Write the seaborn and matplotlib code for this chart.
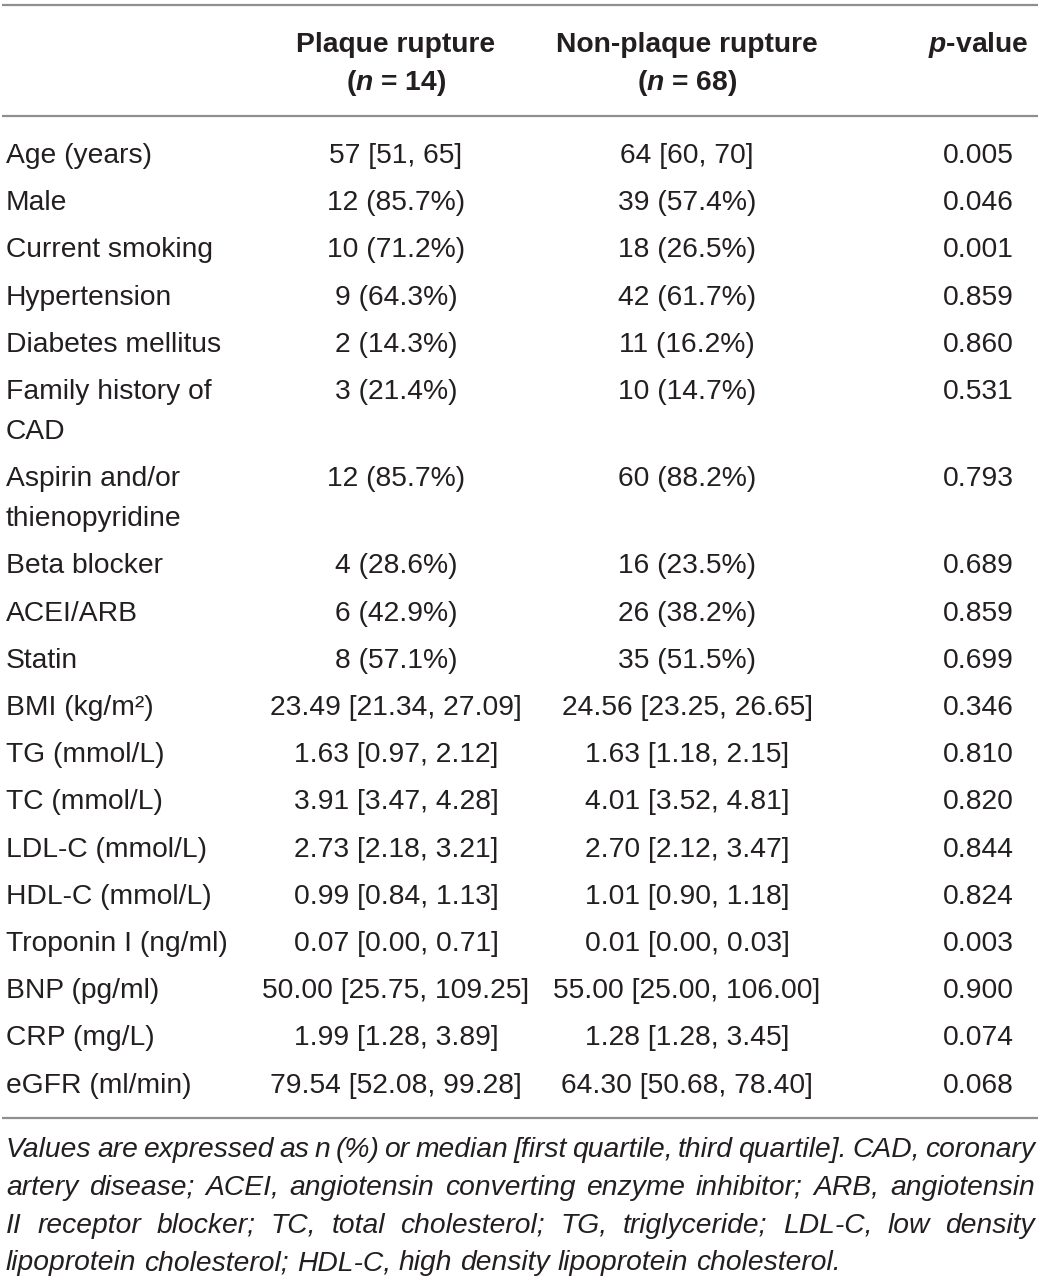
import matplotlib
matplotlib.use('Agg')
import matplotlib.pyplot as plt
import seaborn as sns

# Table data
row_labels = ['Age (years)', 'Male', 'Current smoking', 'Hypertension',
              'Diabetes mellitus', 'Family history of\nCAD',
              'Aspirin and/or\nthienopyridine', 'Beta blocker', 'ACEI/ARB',
              'Statin', 'BMI (kg/m²)', 'TG (mmol/L)', 'TC (mmol/L)',
              'LDL-C (mmol/L)', 'HDL-C (mmol/L)', 'Troponin I (ng/ml)',
              'BNP (pg/ml)', 'CRP (mg/L)', 'eGFR (ml/min)']
plaque = ['57 [51, 65]', '12 (85.7%)', '10 (71.2%)', '9 (64.3%)',
          '2 (14.3%)', '3 (21.4%)', '12 (85.7%)', '4 (28.6%)', '6 (42.9%)',
          '8 (57.1%)', '23.49 [21.34, 27.09]', '1.63 [0.97, 2.12]',
          '3.91 [3.47, 4.28]', '2.73 [2.18, 3.21]', '0.99 [0.84, 1.13]',
          '0.07 [0.00, 0.71]', '50.00 [25.75, 109.25]', '1.99 [1.28, 3.89]',
          '79.54 [52.08, 99.28]']
non_plaque = ['64 [60, 70]', '39 (57.4%)', '18 (26.5%)', '42 (61.7%)',
              '11 (16.2%)', '10 (14.7%)', '60 (88.2%)', '16 (23.5%)',
              '26 (38.2%)', '35 (51.5%)', '24.56 [23.25, 26.65]',
              '1.63 [1.18, 2.15]', '4.01 [3.52, 4.81]', '2.70 [2.12, 3.47]',
              '1.01 [0.90, 1.18]', '0.01 [0.00, 0.03]',
              '55.00 [25.00, 106.00]', '1.28 [1.28, 3.45]',
              '64.30 [50.68, 78.40]']
p_values = ['0.005', '0.046', '0.001', '0.859', '0.860', '0.531', '0.793',
            '0.689', '0.859', '0.699', '0.346', '0.810', '0.820', '0.844',
            '0.824', '0.003', '0.900', '0.074', '0.068']
headers = [('Plaque rupture', '($n$ = 14)'),
           ('Non-plaque rupture', '($n$ = 68)'),
           ('$p$-value', '')]
footnote = [
    'Values are expressed as n (%) or median [first quartile, third quartile]. CAD, coronary',
    'artery disease; ACEI, angiotensin converting enzyme inhibitor; ARB, angiotensin',
    'II receptor blocker; TC, total cholesterol; TG, triglyceride; LDL-C, low density',
    'lipoprotein cholesterol; HDL-C, high density lipoprotein cholesterol.',
]

sns.set_theme(style='white')
plt.rcParams['font.family'] = ['Liberation Sans', 'DejaVu Sans']
plt.rcParams['mathtext.fontset'] = 'custom'
plt.rcParams['mathtext.it'] = 'Liberation Sans:italic:bold'
plt.rcParams['mathtext.rm'] = 'Liberation Sans:bold'

W, H = 1041, 1279
fig = plt.figure(figsize=(W / 100, H / 100), dpi=100)
ax = fig.add_axes([0, 0, 1, 1])
ax.set_xlim(0, W)
ax.set_ylim(H, 0)
ax.axis('off')

fs = 20.3
txt = '#231f20'
line_col = '#8f8f8f'
col_x = [6, 396, 687, 978]

# rules
for y in [5, 116, 1118]:
    ax.plot([2, 1038], [y, y], color=line_col, lw=1.6, solid_capstyle='butt')

# header
for (top, bottom), x in zip(headers, col_x[1:]):
    ax.text(x, 52, top, ha='center', va='baseline', fontsize=fs,
            fontweight='bold', color=txt)
    if bottom:
        ax.text(x, 90, bottom, ha='center', va='baseline', fontsize=fs,
                fontweight='bold', color=txt)

# body
y = 163
for lab, a, b, p in zip(row_labels, plaque, non_plaque, p_values):
    lines = lab.split('\n')
    for i, ln in enumerate(lines):
        ax.text(col_x[0], y + 40 * i, ln, ha='left', va='baseline',
                fontsize=fs, color=txt)
    ax.text(col_x[1], y, a, ha='center', va='baseline', fontsize=fs, color=txt)
    ax.text(col_x[2], y, b, ha='center', va='baseline', fontsize=fs, color=txt)
    ax.text(col_x[3], y, p, ha='center', va='baseline', fontsize=fs, color=txt)
    y += 47.2 + 40 * (len(lines) - 1)

# footnote, justified
renderer = fig.canvas.get_renderer()
left, right = 6, 1035
yb = 1157
for k, ln in enumerate(footnote):
    words = ln.split(' ')
    arts = [ax.text(0, yb, w, ha='left', va='baseline', fontsize=fs,
                    style='italic', color=txt) for w in words]
    widths = [t.get_window_extent(renderer).width for t in arts]
    if k < len(footnote) - 1:
        gap = (right - left - sum(widths)) / (len(words) - 1)
    else:
        sp = ax.text(0, yb, 'a a', fontsize=fs, style='italic')
        sa = ax.text(0, yb, 'aa', fontsize=fs, style='italic')
        gap = sp.get_window_extent(renderer).width - sa.get_window_extent(renderer).width
        sp.remove()
        sa.remove()
    x = left
    for t, w in zip(arts, widths):
        t.set_x(x)
        x += w + gap
    yb += 37.8

fig.savefig('out.png', dpi=100)
